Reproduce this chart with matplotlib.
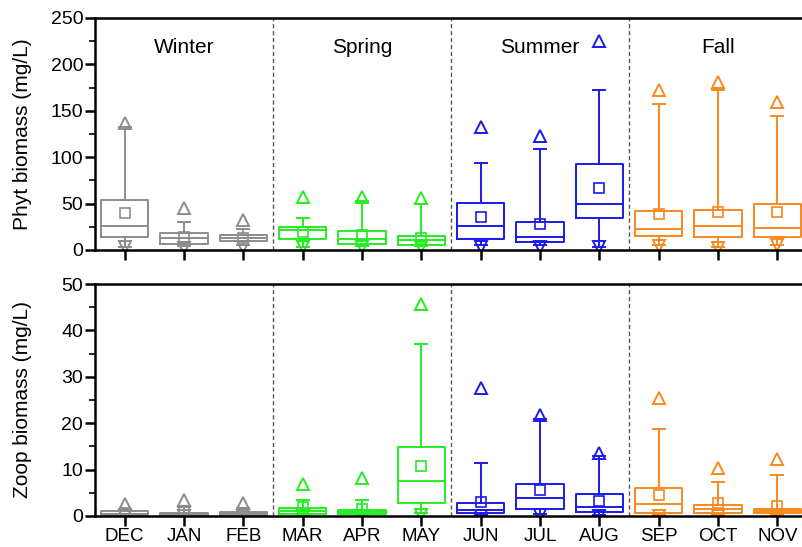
import numpy as np
import matplotlib
matplotlib.use("Agg")
import matplotlib.pyplot as plt

plt.rcParams['font.family'] = ['Liberation Sans', 'DejaVu Sans']

months = ['DEC', 'JAN', 'FEB', 'MAR', 'APR', 'MAY', 'JUN', 'JUL', 'AUG', 'SEP', 'OCT', 'NOV']
seasons = ['Winter', 'Spring', 'Summer', 'Fall']
season_colors = ['#8c8c8c', '#22ee22', '#1a1aee', '#f7891f']

# phytoplankton biomass (mg/L)
phyt_q1 = [14, 6.5, 9.3, 11.5, 6.5, 5.4, 11.9, 8.6, 34, 15, 13.6, 13.6]
phyt_med = [26, 12.6, 12.9, 21.5, 11.5, 10.8, 26.2, 14, 49.6, 22.6, 25.9, 23.3]
phyt_q3 = [54, 18, 15.8, 25, 20.5, 15, 51, 29.8, 92.3, 42.4, 43.1, 49.9]
phyt_mean = [39.5, 13.6, 12.5, 19, 16, 12.6, 35.2, 27.7, 66.5, 38.4, 41.3, 40.6]
phyt_wlo = [3.5, 4, 5, 3.6, 4, 4, 5.4, 5, 3.6, 5.4, 2.9, 5]
phyt_whi = [133, 30.5, 23, 34, 53, 50, 93.4, 109, 172.4, 157.3, 172.4, 144.4]
phyt_min = [3, 2.5, 3, 3, 3, 3, 3.5, 3, 3, 4.3, 2, 5.4]
phyt_max = [136.5, 45, 32, 56.8, 57, 55.7, 132.9, 122.8, 225.6, 172.4, 181.4, 159.1]

# zooplankton biomass (mg/L)
zoop_q1 = [0.2, 0.1, 0.2, 0.35, 0.35, 2.7, 0.6, 1.5, 0.8, 0.6, 0.7, 0.6]
zoop_med = [0.5, 0.3, 0.5, 1.1, 0.8, 7.5, 1.3, 3.8, 2.0, 2.5, 1.5, 1.0]
zoop_q3 = [1.15, 0.6, 0.9, 1.7, 1.3, 14.9, 2.9, 6.8, 4.7, 6.0, 2.3, 1.6]
zoop_mean = [0.6, 0.8, 0.7, 2.0, 1.6, 10.8, 3.1, 5.6, 3.2, 4.5, 2.7, 2.2]
zoop_wlo = [0.1, 0.05, 0.1, 0.1, 0.1, 0.6, 0.2, 0.4, 0.3, 0.2, 0.3, 0.2]
zoop_whi = [1.5, 2.0, 1.8, 3.4, 3.4, 37.1, 11.5, 21.0, 13.0, 18.7, 7.4, 8.8]
zoop_min = [0.05, 0.02, 0.05, 0.05, 0.05, 0.3, 0.1, 0.2, 0.1, 0.1, 0.1, 0.1]
zoop_max = [2.6, 3.4, 2.7, 7.0, 8.1, 45.6, 27.5, 21.8, 13.5, 25.4, 10.3, 12.2]

W, H = 802, 547
fig = plt.figure(figsize=(W / 100, H / 100), dpi=100)
ax1 = fig.add_axes([95 / W, (H - 250) / H, (807 - 95) / W, 232 / H])
ax2 = fig.add_axes([95 / W, (H - 516) / H, (807 - 95) / W, 232 / H])

pos = np.arange(1, 13)
cols = [season_colors[i // 3] for i in range(12)]


def draw(ax, q1, med, q3, mean, wlo, whi, mn, mx, ymax, step, minor):
    for i in range(12):
        c = cols[i]
        st = [dict(q1=q1[i], med=med[i], q3=q3[i], whislo=wlo[i], whishi=whi[i], fliers=[])]
        ax.bxp(st, positions=[pos[i]], widths=0.8, capwidths=0.2, showfliers=False,
               boxprops=dict(color=c, lw=1.4), medianprops=dict(color=c, lw=1.4),
               whiskerprops=dict(color=c, lw=1.4), capprops=dict(color=c, lw=1.4),
               manage_ticks=False)
        ax.plot(pos[i], mean[i], 's', ms=7, mfc='none', mec=c, mew=1.2)
        ax.plot(pos[i], mx[i], '^', ms=8, mfc='none', mec=c, mew=1.4)
        ax.plot(pos[i], mn[i], 'v', ms=8, mfc='none', mec=c, mew=1.4)
    for xv in [3.5, 6.5, 9.5]:
        ax.axvline(xv, color='#555555', ls=(0, (3, 2)), lw=1)
    ax.set_xlim(0.5, 12.5)
    ax.set_ylim(0, ymax)
    ax.set_yticks(np.arange(0, ymax + step / 2, step))
    ax.set_yticks(np.arange(0, ymax, minor), minor=True)
    ax.set_xticks(pos)
    for s in ['top', 'bottom', 'left']:
        ax.spines[s].set_linewidth(1.8)
    ax.spines['right'].set_visible(False)
    ax.tick_params(axis='both', which='major', direction='out', length=7, width=1.8,
                   labelsize=14, pad=1.5)
    ax.tick_params(axis='y', which='minor', direction='out', length=4.5, width=1.2)


draw(ax1, phyt_q1, phyt_med, phyt_q3, phyt_mean, phyt_wlo, phyt_whi, phyt_min, phyt_max, 250, 50, 25)
draw(ax2, zoop_q1, zoop_med, zoop_q3, zoop_mean, zoop_wlo, zoop_whi, zoop_min, zoop_max, 50, 10, 5)

ax1.set_xticklabels([])
ax2.set_xticklabels(months, fontsize=13.5)
ax1.set_ylabel('Phyt biomass (mg/L)', fontsize=15)
ax2.set_ylabel('Zoop biomass (mg/L)', fontsize=15)
ax1.yaxis.set_label_coords(-0.088, 0.5)
ax2.yaxis.set_label_coords(-0.088, 0.5)

for k, s in enumerate(seasons):
    ax1.text(2 + 3 * k, 218, s, ha='center', va='center', fontsize=15)

fig.savefig('out.png', dpi=100)
